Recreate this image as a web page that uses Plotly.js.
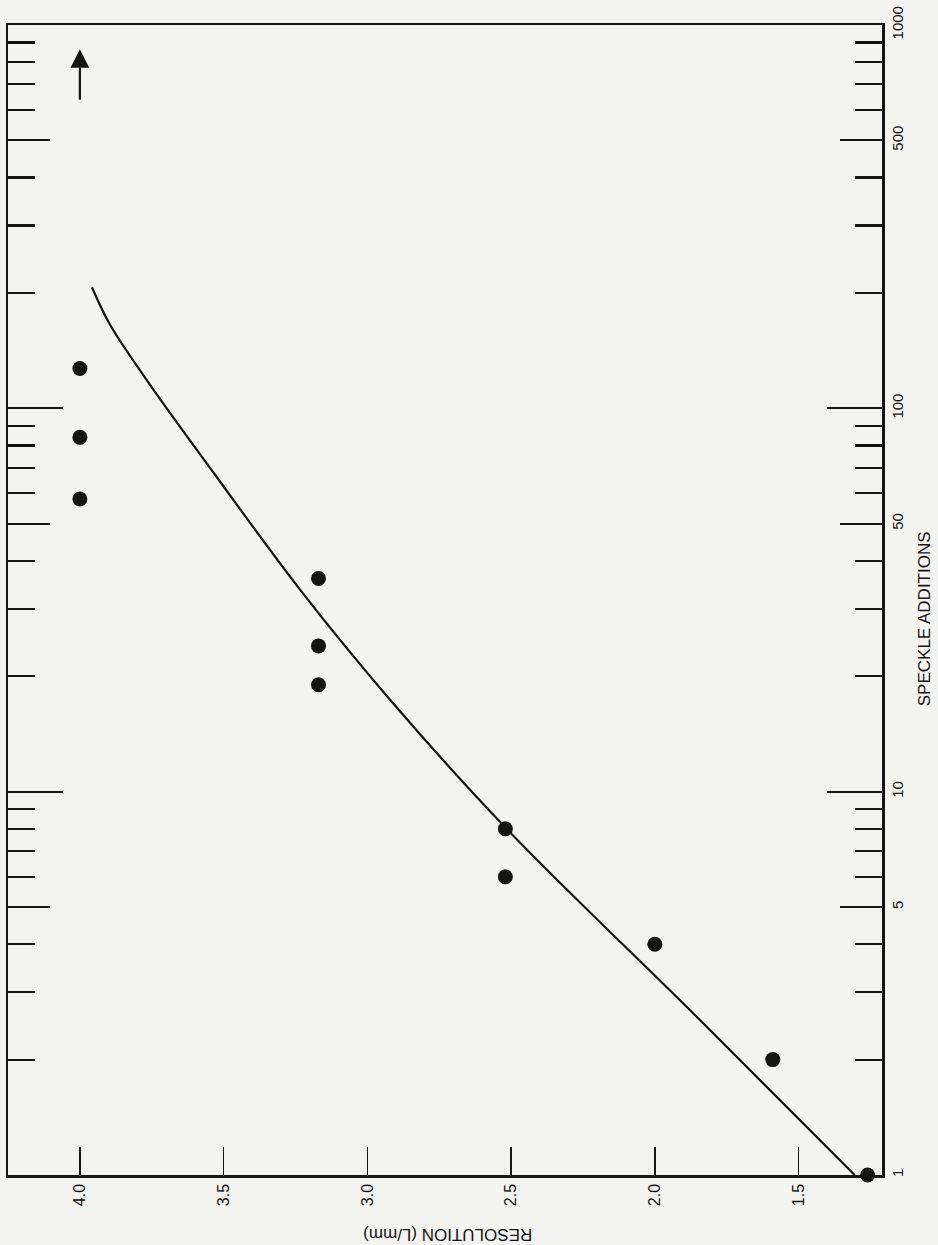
<!DOCTYPE html>
<html>
<head>
<meta charset="utf-8">
<script src="https://cdn.plot.ly/plotly-3.0.1.min.js"></script>
<style>html,body{margin:0;padding:0;background:#f3f3f1;}</style>
</head>
<body>
<div id="chart" style="width:938px;height:1245px;"></div>
<script>
// Measured points: resolution (L/mm) vs number of speckle additions
const resolution = [1.26, 1.59, 2.0, 2.52, 2.52, 3.17, 3.17, 3.17, 4.0, 4.0, 4.0];
const additions  = [1, 2, 4, 6, 8, 19, 24, 36, 58, 84, 127];

// Hand-drawn fitted curve
const fitResolution = [1.305, 1.844, 2.519, 2.922, 3.235, 3.531, 3.757, 3.896, 3.958];
const fitAdditions  = [1.0, 2.54, 8.05, 17.4, 33.7, 67.3, 115.5, 165.7, 207];

// Axis ticks
const resTickVals = [4.0, 3.5, 3.0, 2.5, 2.0, 1.5];
const resTickText = ['4.0', '3.5', '3.0', '2.5', '2.0', '1.5'];
const decadeTicks = [1, 10, 100, 1000];
const decadeText  = ['1', '10', '100', '1000'];
const halfTicks   = [5, 50, 500];
const halfText    = ['5', '50', '500'];
const minorTicks  = [2, 3, 4, 6, 7, 8, 9, 20, 30, 40, 60, 70, 80, 90, 200, 300, 400, 600, 700, 800, 900];

// Arrow marking "beyond" at resolution 4.0
const arrowRes = 4.0;
const arrowAdditions = 865;

const ink = '#141414';
const bg = '#f3f3f1';
const fontFam = 'Liberation Sans, Arial, Helvetica, sans-serif';

const traces = [
  {
    x: fitResolution, y: fitAdditions, type: 'scatter', mode: 'lines',
    line: {color: ink, width: 2.2, shape: 'spline', smoothing: 1},
    hoverinfo: 'skip'
  },
  {
    x: resolution, y: additions, type: 'scatter', mode: 'markers',
    marker: {color: ink, size: 15, line: {width: 0}},
    cliponaxis: false
  },
  {x: [], y: [], yaxis: 'y2', type: 'scatter'},
  {x: [], y: [], yaxis: 'y3', type: 'scatter'}
];

const yCommon = {
  type: 'log', range: [0, 3], side: 'right', anchor: 'x',
  ticks: 'inside', tickcolor: ink, tickwidth: 2.2,
  mirror: 'ticks', showline: true, linecolor: ink, linewidth: 2.5,
  showgrid: false, zeroline: false, tickangle: -90,
  tickfont: {family: fontFam, size: 15, color: ink},
  fixedrange: true
};

const layout = {
  width: 938, height: 1245,
  margin: {l: 8, r: 56, t: 25, b: 70, pad: 0},
  paper_bgcolor: bg, plot_bgcolor: bg,
  showlegend: false,
  font: {family: fontFam, color: ink},
  xaxis: {
    range: [4.25, 1.21],
    tickmode: 'array', tickvals: resTickVals, ticktext: resTickText,
    ticks: 'inside', ticklen: 28, tickwidth: 1.6, tickcolor: ink,
    showline: true, linewidth: 2.5, linecolor: ink, mirror: true,
    showgrid: false, zeroline: false, tickangle: -90,
    tickfont: {family: fontFam, size: 16, color: ink},
    fixedrange: true
  },
  yaxis: Object.assign({}, yCommon, {tickmode: 'array', tickvals: decadeTicks, ticktext: decadeText, ticklen: 55}),
  yaxis2: Object.assign({}, yCommon, {overlaying: 'y', tickmode: 'array', tickvals: halfTicks, ticktext: halfText, ticklen: 42}),
  yaxis3: Object.assign({}, yCommon, {overlaying: 'y', tickmode: 'array', tickvals: minorTicks, showticklabels: false, ticklen: 27}),
  annotations: [
    {
      x: arrowRes, y: Math.log10(arrowAdditions), xref: 'x', yref: 'y',
      text: '', showarrow: true, arrowhead: 2, arrowsize: 1.7, arrowwidth: 2.2,
      arrowcolor: ink, ax: 0, ay: 52
    },
    {
      x: 1.049, y: 0.484, xref: 'paper', yref: 'paper',
      xanchor: 'center', yanchor: 'middle',
      text: 'SPECKLE ADDITIONS', showarrow: false, textangle: -90,
      font: {family: fontFam, size: 17, color: ink}
    },
    {
      x: 0.503, y: -0.0513, xref: 'paper', yref: 'paper',
      xanchor: 'center', yanchor: 'middle',
      text: 'RESOLUTION (L/mm)', showarrow: false, textangle: 180,
      font: {family: fontFam, size: 17, color: ink}
    }
  ]
};

Plotly.newPlot('chart', traces, layout, {staticPlot: true, displayModeBar: false});
</script>
</body>
</html>
